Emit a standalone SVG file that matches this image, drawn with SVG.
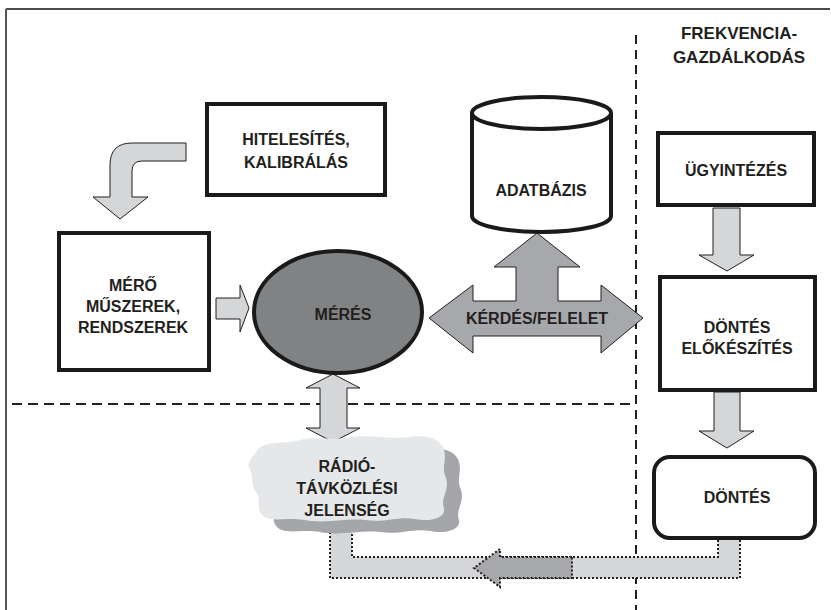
<svg xmlns="http://www.w3.org/2000/svg" width="831" height="610" viewBox="0 0 831 610">
  <style>
    .t { font-family: "Liberation Sans", Arial, sans-serif; font-weight: bold; font-size: 16px; fill: #231f20; text-anchor: middle; }
    .h { font-size: 17px; }
    .box { fill: #ffffff; stroke: #1a1a1a; stroke-width: 4; }
    .arr { fill: #d5d6d8; stroke: #231f20; stroke-width: 1; stroke-linejoin: miter; }
    .arr2 { fill: #a7a8ab; stroke: #231f20; stroke-width: 1; }
    .dash { fill: none; stroke: #231f20; stroke-width: 2; }
    .dot { stroke: #231f20; stroke-width: 2; stroke-dasharray: 2 2; }
  </style>

  <rect width="831" height="610" fill="#ffffff"/>

  <!-- frame -->
  <line x1="6" y1="9" x2="830" y2="9" stroke="#111" stroke-width="1.5"/>
  <line x1="6" y1="9" x2="6" y2="610" stroke="#555" stroke-width="2"/>

  <!-- region separators -->
  <line class="dash" x1="636" y1="35" x2="636" y2="610" stroke-dasharray="9 6"/>
  <line class="dash" x1="12" y1="404" x2="636" y2="404" stroke-dasharray="10 6"/>

  <g id="header">
    <text class="t h" x="739" y="39">FREKVENCIA-</text>
    <text class="t h" x="739" y="63">GAZDÁLKODÁS</text>
  </g>

  <g id="connectors">
    <!-- bent arrow: calibration to instruments -->
    <path class="arr" d="M186,143 L132,143 Q110,143 110,165 L110,197 L93,197 L120,219 L148,197 L132,197 L132,171 Q132,161 142,161 L186,161 Z"/>
    <!-- instruments to measurement -->
    <path class="arr" d="M216,298 L240,298 L240,285 L249,308 L240,332 L240,319 L216,319 Z"/>
    <!-- measurement <-> phenomenon -->
    <path class="arr" d="M333,374 L360,388 L347,388 L347,428 L360,428 L333,442 L306,428 L320,428 L320,388 L306,388 Z"/>
    <!-- query/answer three-way arrow -->
    <path class="arr2" d="M537,233 L580,267 L558,267 L558,301 L601,301 L601,285 L643,318 L601,353 L601,336 L473,336 L473,353 L429,318 L473,285 L473,301 L516,301 L516,267 L494,267 Z"/>
    <text class="t" x="537" y="324">KÉRDÉS/FELELET</text>
    <!-- right column arrows -->
    <path class="arr" d="M713,208 L740,208 L740,255 L754,255 L727,271 L699,255 L713,255 Z"/>
    <path class="arr" d="M714,392 L740,392 L740,431 L754,431 L727,448 L699,431 L714,431 Z"/>
    <!-- feedback path: decision back to phenomenon -->
    <path class="dot" fill="#d5d6d8" d="M330,528 L330,578 L740,578 L740,538 L718,538 L718,557 L352,557 L352,528"/>
    <path class="dot" fill="#a7a8ab" d="M572,557 L500,557 L500,549 L474,568 L500,587 L500,578 L572,578 Z"/>
  </g>

  <g id="hitelesites">
    <rect class="box" x="207" y="104" width="178" height="91"/>
    <text class="t" x="296" y="145">HITELESÍTÉS,</text>
    <text class="t" x="296" y="168">KALIBRÁLÁS</text>
  </g>

  <g id="mero">
    <rect class="box" x="59" y="233" width="150" height="137"/>
    <text class="t" x="133" y="291">MÉRŐ</text>
    <text class="t" x="133" y="312">MŰSZEREK,</text>
    <text class="t" x="133" y="333">RENDSZEREK</text>
  </g>

  <g id="meres">
    <ellipse cx="338" cy="312" rx="84" ry="61" fill="#818284" stroke="#1a1a1a" stroke-width="4"/>
    <text class="t" x="343" y="320">MÉRÉS</text>
  </g>

  <g id="adatbazis">
    <path class="box" d="M472,113 L472,216 A69.5,16 0 0 0 611,216 L611,113"/>
    <ellipse class="box" cx="541.5" cy="113" rx="69.5" ry="16"/>
    <text class="t" x="541" y="196">ADATBÁZIS</text>
  </g>

  <g id="jelenseg">
    <path fill="#a5a6a9" transform="translate(15,12)" d="M256,452 C262,440 285,444 300,440 C318,436 335,441 352,437 C372,434 392,440 410,437 C428,434 442,440 444,450 C447,460 441,468 446,478 C450,490 440,498 444,508 C446,518 430,522 415,519 C398,516 385,523 365,520 C345,518 325,524 305,520 C285,517 270,523 262,515 C255,508 262,500 256,492 C250,484 254,476 250,470 C246,462 252,458 256,452 Z"/>
    <path fill="#e6e7e8" d="M256,452 C262,440 285,444 300,440 C318,436 335,441 352,437 C372,434 392,440 410,437 C428,434 442,440 444,450 C447,460 441,468 446,478 C450,490 440,498 444,508 C446,518 430,522 415,519 C398,516 385,523 365,520 C345,518 325,524 305,520 C285,517 270,523 262,515 C255,508 262,500 256,492 C250,484 254,476 250,470 C246,462 252,458 256,452 Z"/>
    <text class="t" x="347" y="472">RÁDIÓ-</text>
    <text class="t" x="347" y="494">TÁVKÖZLÉSI</text>
    <text class="t" x="347" y="516">JELENSÉG</text>
  </g>

  <g id="ugyintezes">
    <rect class="box" x="658" y="133" width="156" height="72"/>
    <text class="t" x="736" y="176">ÜGYINTÉZÉS</text>
  </g>

  <g id="dontes-elokeszites">
    <rect class="box" x="660" y="277" width="155" height="113"/>
    <text class="t" x="737" y="333">DÖNTÉS</text>
    <text class="t" x="737" y="354">ELŐKÉSZÍTÉS</text>
  </g>

  <g id="dontes">
    <rect class="box" x="654" y="457" width="161" height="81" rx="16"/>
    <text class="t" x="737" y="503">DÖNTÉS</text>
  </g>
</svg>
